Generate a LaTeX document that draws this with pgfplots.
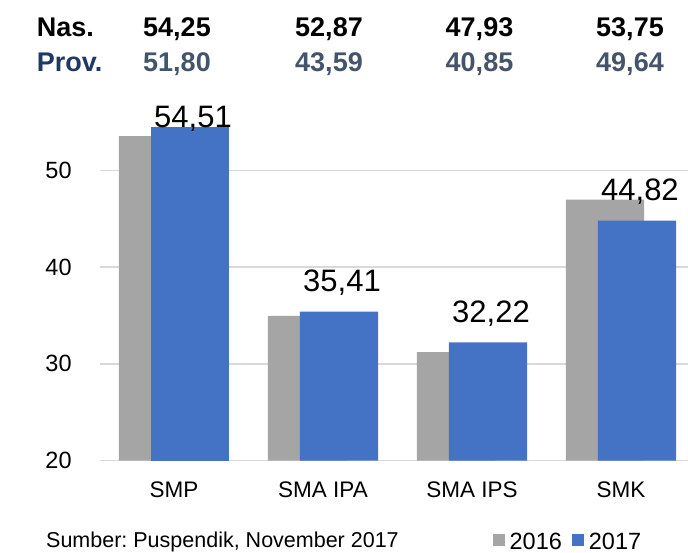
\documentclass[border=0pt]{standalone}
\usepackage{fontspec}
\setmainfont{Liberation Sans}
\usepackage{pgfplots}
\pgfplotsset{compat=1.18}
\usepackage{pgfplotstable}
\definecolor{g16}{HTML}{A5A5A5}
\definecolor{b17}{HTML}{4472C4}
\definecolor{gridc}{HTML}{D9D9D9}
\definecolor{provc}{HTML}{203864}
\definecolor{valc}{HTML}{44546A}

\pgfplotstableread{
x y16
0 53.55
1 34.95
2 31.2
3 47.0
}\tabA
\pgfplotstableread{
x y17 lab
1 35.41 35,41
2 32.22 32,22
3 44.82 44,82
}\tabB
\pgfplotstableread{
x y17 lab
0 54.51 54,51
}\tabC

\begin{document}
\frenchspacing
\begin{tikzpicture}
\useasboundingbox (0,0) rectangle (688bp,553bp);
\begin{axis}[
  at={(99.5bp,92.5bp)}, anchor=south west,
  scale only axis, width=588.5bp, height=367.3bp,
  xmin=-0.5, xmax=3.45, ymin=20, ymax=58,
  xtick={0,1,2,3}, xticklabels={SMP,SMA IPA,SMA IPS,SMK},
  ytick={20,30,40,50},
  ymajorgrids, major grid style={draw=gridc, line width=1.5bp},
  axis line style={draw=none}, major tick length=0pt,
  /pgf/number format/assume math mode=true,
  yticklabel style={font=\fontsize{23.5bp}{28bp}\selectfont, inner sep=0pt, anchor=east, xshift=-27.7bp},
  xticklabel style={font=\fontsize{22.5bp}{27bp}\selectfont, inner sep=0pt, anchor=north, yshift=-21.2bp},
  legend style={at={(axis description cs:0.668,-0.2455)}, anchor=south west,
    draw=none, fill=none, inner sep=0pt, outer sep=0pt,
    font=\fontsize{23.5bp}{28bp}\selectfont,
    nodes={inner sep=0pt},
    /tikz/every odd column/.append style={column sep=5bp},
    /tikz/every even column/.append style={column sep=10bp}},
  legend columns=2,
  legend image code/.code={\fill[#1] (0bp,-4.5bp) rectangle (12bp,7.5bp);},
  lbl/.style={nodes near coords, point meta=explicit symbolic,
    every node near coord/.append style={font=\fontsize{31bp}{36bp}\selectfont,
    anchor=base, inner sep=0pt, xshift=19bp, text=black, yshift=#1}},
]
\addplot[ybar, bar width=0.525, bar shift=-0.107, fill=g16, draw=none]
  table[x=x, y=y16] {\tabA};
\addplot[ybar, bar width=0.525, bar shift=0.107, fill=b17, draw=none, lbl=19.6bp]
  table[x=x, y=y17, meta=lab] {\tabB};
\addplot[ybar, bar width=0.525, bar shift=0.107, fill=b17, draw=none, lbl=-1bp, forget plot]
  table[x=x, y=y17, meta=lab] {\tabC};
\legend{2016,2017}
\end{axis}
\begin{scope}[every node/.style={inner sep=0pt, font=\fontsize{27bp}{32bp}\selectfont\bfseries}]
\node[anchor=base west] at (36.7bp,516.3bp) {Nas.};
\node[anchor=base] at (177bp,516.3bp) {54,25};
\node[anchor=base] at (329bp,516.3bp) {52,87};
\node[anchor=base] at (479.5bp,516.3bp) {47,93};
\node[anchor=base] at (630bp,516.3bp) {53,75};
\node[anchor=base west, text=provc] at (36.7bp,481.3bp) {Prov.};
\node[anchor=base, text=valc] at (177bp,481.3bp) {51,80};
\node[anchor=base, text=valc] at (329bp,481.3bp) {43,59};
\node[anchor=base, text=valc] at (479.5bp,481.3bp) {40,85};
\node[anchor=base, text=valc] at (630bp,481.3bp) {49,64};
\end{scope}
\node[anchor=base west, inner sep=0pt, font=\fontsize{21.5bp}{26bp}\selectfont] at (46bp,6bp) {Sumber: Puspendik, November 2017};
\end{tikzpicture}
\end{document}
